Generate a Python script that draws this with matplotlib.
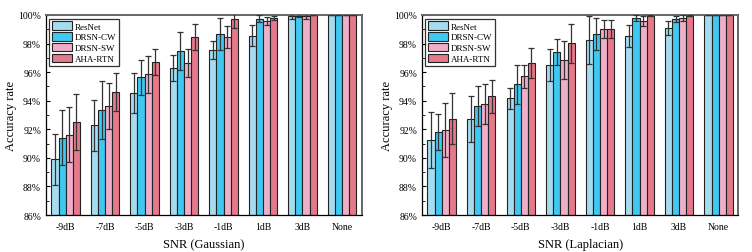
import numpy as np
import matplotlib.pyplot as plt
from matplotlib.ticker import MultipleLocator, FuncFormatter

plt.rcParams['font.family'] = ['Liberation Serif', 'DejaVu Serif']

snr = ['-9dB', '-7dB', '-5dB', '-3dB', '-1dB', '1dB', '3dB', 'None']
models = ['ResNet', 'DRSN-CW', 'DRSN-SW', 'AHA-RTN']
colors = ['#a6dcef', '#3fc9f2', '#f0afc9', '#e5788a']

# Gaussian noise: mean accuracy (%) and error
g_resnet = [89.9, 92.28, 94.54, 96.29, 97.53, 98.55, 99.9, 100]
g_cw = [91.41, 93.33, 95.64, 97.48, 98.67, 99.74, 99.95, 100]
g_sw = [91.62, 93.61, 95.85, 96.64, 98.48, 99.58, 99.9, 100]
g_aha = [92.49, 94.59, 96.71, 98.46, 99.7, 99.81, 100, 100]
g_resnet_err = [1.8, 1.78, 1.43, 0.93, 0.63, 0.73, 0.2, 0]
g_cw_err = [1.92, 2.04, 1.21, 1.34, 1.14, 0.25, 0.1, 0]
g_sw_err = [1.93, 1.6, 1.28, 0.97, 0.78, 0.3, 0.2, 0]
g_aha_err = [1.96, 1.33, 0.92, 0.9, 0.6, 0.15, 0, 0]

# Laplacian noise
l_resnet = [91.23, 92.7, 94.17, 96.5, 98.25, 98.55, 99.09, 100]
l_cw = [91.79, 93.61, 95.15, 97.39, 98.67, 99.81, 99.74, 100]
l_sw = [91.95, 93.77, 95.71, 96.85, 99.0, 99.58, 99.79, 100]
l_aha = [92.74, 94.31, 96.62, 98.02, 99.0, 99.95, 99.95, 100]
l_resnet_err = [1.95, 1.6, 0.75, 1.1, 1.65, 0.78, 0.52, 0]
l_cw_err = [1.25, 1.4, 1.35, 0.9, 1.15, 0.2, 0.2, 0]
l_sw_err = [1.88, 1.38, 0.82, 1.3, 0.63, 0.33, 0.18, 0]
l_aha_err = [1.77, 1.15, 1.05, 1.35, 0.62, 0.05, 0.05, 0]

fig = plt.figure(figsize=(7.52, 2.53), dpi=100)
ax1 = fig.add_axes([0.061, 0.146, 0.420, 0.791])
ax2 = fig.add_axes([0.561, 0.146, 0.421, 0.791])


def draw(ax, vals, errs, xlabel):
    x = np.arange(len(snr))
    w = 0.18
    for k in range(4):
        pos = x + (k - 1.5) * w
        ax.bar(pos, np.array(vals[k]) - 86, w, bottom=86, color=colors[k],
               edgecolor='#222222', linewidth=0.8, label=models[k], zorder=2)
        ax.errorbar(pos, vals[k], yerr=errs[k], fmt='none', ecolor='#333333',
                    elinewidth=0.9, capsize=2.2, capthick=0.9, zorder=3)
    ax.set_xlim(-0.5, len(snr) - 0.5)
    ax.set_ylim(86, 100)
    ax.set_xticks(x)
    ax.set_xticklabels(snr, fontsize=7)
    ax.tick_params(axis='x', length=0, pad=5)
    ax.yaxis.set_major_locator(MultipleLocator(2))
    ax.yaxis.set_minor_locator(MultipleLocator(1))
    ax.yaxis.set_major_formatter(FuncFormatter(lambda v, p: '%d%%' % v))
    ax.tick_params(axis='y', which='major', direction='in', length=3,
                   labelsize=7, right=False)
    ax.tick_params(axis='y', which='minor', direction='in', length=1.8)
    for s in ['top', 'right']:
        ax.spines[s].set_color('#666666')
        ax.spines[s].set_linewidth(1.4)
    ax.spines['left'].set_linewidth(0.9)
    ax.spines['bottom'].set_linewidth(0.9)
    ax.set_ylabel('Accuracy rate', fontsize=9, labelpad=1)
    ax.set_xlabel(xlabel, fontsize=9, labelpad=5)
    leg = ax.legend(loc='upper left', fontsize=6.5, frameon=True, fancybox=False,
                    edgecolor='black', borderpad=0.3, labelspacing=0.15,
                    handlelength=2.2, handleheight=1.1, handletextpad=0.3,
                    borderaxespad=0.4)
    leg.get_frame().set_linewidth(0.9)


draw(ax1, [g_resnet, g_cw, g_sw, g_aha],
     [g_resnet_err, g_cw_err, g_sw_err, g_aha_err], 'SNR (Gaussian)')
draw(ax2, [l_resnet, l_cw, l_sw, l_aha],
     [l_resnet_err, l_cw_err, l_sw_err, l_aha_err], 'SNR (Laplacian)')

fig.savefig('out.png', dpi=100)
